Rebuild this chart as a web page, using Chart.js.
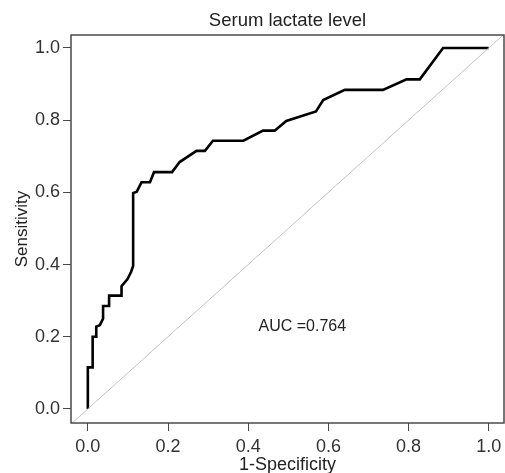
<!DOCTYPE html>
<html>
<head>
<meta charset="utf-8">
<script src="https://cdn.jsdelivr.net/npm/chart.js@4/dist/chart.umd.min.js"></script>
<style>
  html, body { margin: 0; padding: 0; background: #fff; }
  #wrap { width: 505px; height: 473px; }
</style>
</head>
<body>
<div id="wrap"><canvas id="rocChart"></canvas></div>
<script>
// ROC curve
const fpr = [0, 0, 0.012, 0.012, 0.021, 0.021, 0.03, 0.038, 0.038, 0.053, 0.053, 0.084, 0.084, 0.099, 0.108, 0.113, 0.113,
             0.122, 0.134, 0.155, 0.165, 0.21, 0.229, 0.271, 0.292, 0.312, 0.388, 0.437, 0.466, 0.495, 0.569, 0.587,
             0.641, 0.736, 0.795, 0.828, 0.886, 1.0];
const tpr = [0, 0.115, 0.115, 0.2, 0.2, 0.228, 0.232, 0.25, 0.285, 0.285, 0.314, 0.314, 0.34, 0.36, 0.38, 0.396, 0.598,
             0.602, 0.628, 0.628, 0.656, 0.656, 0.684, 0.715, 0.715, 0.743, 0.743, 0.771, 0.771, 0.798, 0.824, 0.856,
             0.884, 0.884, 0.913, 0.913, 1.0, 1.0];
const refLine = [-0.1, 1.1];
const tickValues = [0, 0.2, 0.4, 0.6, 0.8, 1.0];
const aucText = 'AUC =0.764';

const fontFamily = '"Liberation Sans", Arial, Helvetica, sans-serif';
const axisColor = '#4a4a4a';

// frame round the plot + the AUC note
const boxPlugin = {
    id: 'boxPlugin',
    afterDatasetsDraw(chart) {
        const { ctx, chartArea, scales } = chart;
        ctx.save();
        ctx.strokeStyle = axisColor;
        ctx.lineWidth = 1.5;
        ctx.strokeRect(chartArea.left, chartArea.top, chartArea.right - chartArea.left, chartArea.bottom - chartArea.top);
        ctx.fillStyle = '#222';
        ctx.font = '16px ' + fontFamily;
        ctx.textAlign = 'center';
        ctx.textBaseline = 'middle';
        ctx.fillText(aucText, scales.x.getPixelForValue(0.535), scales.y.getPixelForValue(0.228));
        ctx.restore();
    }
};

const ctx = document.getElementById('rocChart').getContext('2d');
const rocChart = new Chart(ctx, {
    type: 'scatter',
    data: {
        datasets: [
            {
                label: 'reference',
                data: refLine.map(v => ({ x: v, y: v })),
                showLine: true,
                borderColor: '#c4c4c4',
                borderWidth: 1,
                pointRadius: 0,
                clip: 0,
            },
            {
                label: 'ROC',
                data: fpr.map((v, i) => ({ x: v, y: tpr[i] })),
                showLine: true,
                borderColor: '#000',
                borderWidth: 2.6,
                pointRadius: 0,
                tension: 0,
            }
        ]
    },
    options: {
        responsive: true,
        maintainAspectRatio: false,
        animation: false,
        layout: { padding: { right: 1 } },
        plugins: {
            legend: { display: false },
            tooltip: { enabled: false },
            title: { display: false }
        },
        scales: {
            x: {
                type: 'linear',
                min: -0.042,
                max: 1.038,
                afterBuildTicks: s => { s.ticks = tickValues.map(v => ({ value: v })); },
                afterFit: s => { s.height = 50; s.paddingLeft = 0; s.paddingRight = 0; },
                ticks: {
                    color: '#333',
                    font: { family: fontFamily, size: 18 },
                    padding: 5,
                    maxRotation: 0,
                    callback: v => v.toFixed(1)
                },
                grid: { drawOnChartArea: false, drawTicks: true, tickLength: 8, color: axisColor },
                border: { display: false },
                title: {
                    display: true,
                    text: '1-Specificity',
                    color: '#222',
                    font: { family: fontFamily, size: 18 },
                    padding: { top: 0, bottom: -3 }
                }
            },
            top: {
                type: 'linear',
                position: 'top',
                min: -0.042,
                max: 1.038,
                afterFit: s => { s.height = 35; s.paddingLeft = 0; s.paddingRight = 0; },
                ticks: { display: false },
                grid: { display: false, drawTicks: false },
                border: { display: false },
                title: {
                    display: true,
                    text: 'Serum lactate level',
                    color: '#222',
                    font: { family: fontFamily, size: 18.5 },
                    padding: { top: 10, bottom: 3 }
                }
            },
            y: {
                type: 'linear',
                min: -0.039,
                max: 1.036,
                afterBuildTicks: s => { s.ticks = tickValues.map(v => ({ value: v })); },
                afterFit: s => { s.width = 71; s.paddingTop = 0; s.paddingBottom = 0; },
                ticks: {
                    color: '#333',
                    font: { family: fontFamily, size: 18 },
                    padding: 3,
                    callback: v => v.toFixed(1)
                },
                grid: { drawOnChartArea: false, drawTicks: true, tickLength: 8, color: axisColor },
                border: { display: false },
                title: {
                    display: true,
                    text: 'Sensitivity',
                    color: '#222',
                    font: { family: fontFamily, size: 17 },
                    padding: { top: 12, bottom: 0 }
                }
            }
        }
    },
    plugins: [boxPlugin]
});
</script>
</body>
</html>
